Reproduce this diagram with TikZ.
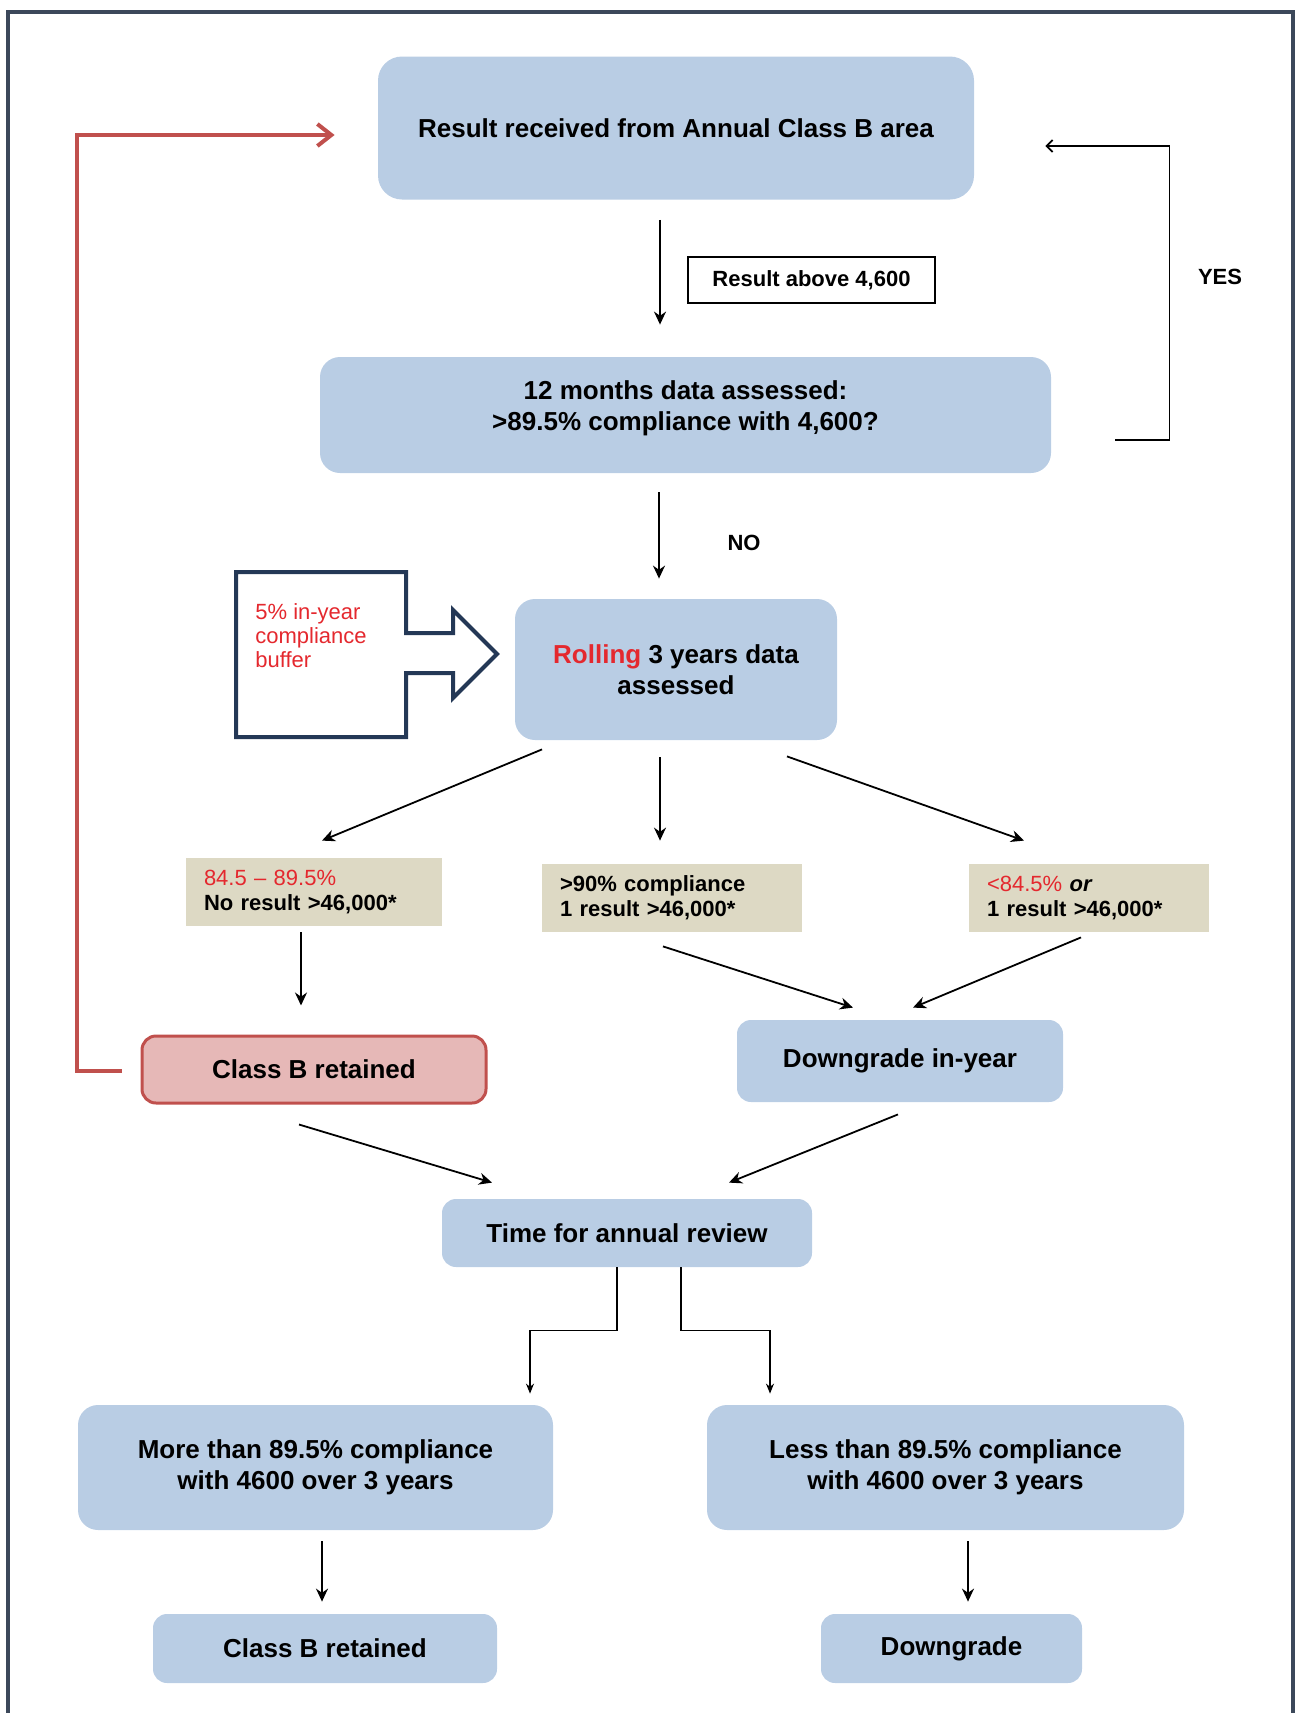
\documentclass[tikz,border=0pt]{standalone}
\usepackage{fontspec}
\setmainfont{Liberation Sans}
\usepackage{tikz}
\usepackage{xcolor}
\usetikzlibrary{arrows.meta}

\definecolor{boxblue}{RGB}{185,205,228}
\definecolor{boxtan}{RGB}{221,217,196}
\definecolor{boxpink}{RGB}{230,184,183}
\definecolor{loopred}{RGB}{192,80,77}
\definecolor{textred}{RGB}{228,40,46}
\definecolor{framegray}{RGB}{60,72,90}
\definecolor{buffernavy}{RGB}{36,56,86}

\begin{document}
\begin{tikzpicture}[x=0.5pt, y=-0.5pt]
\tikzstyle{block} = [rectangle, fill=boxblue, align=center, rounded corners=10pt, inner sep=0pt, font=\fontsize{13}{15.5}\selectfont\bfseries]
\tikzstyle{cond} = [rectangle, fill=boxtan, align=left, inner xsep=9pt, inner ysep=0pt, minimum height=34pt, font=\fontsize{11}{12.5}\selectfont\bfseries]
\tikzstyle{keepbox} = [block, fill=boxpink, draw=loopred, line width=1.5pt, rounded corners=7pt]
\tikzstyle{note} = [rectangle, draw=black, line width=0.9pt, fill=white, minimum width=123.5pt, minimum height=23pt, inner sep=0pt, font=\fontsize{11}{13}\selectfont\bfseries]
\tikzstyle{tag} = [inner sep=0pt, font=\fontsize{11}{13}\selectfont\bfseries]
\tikzstyle{arrow} = [line width=0.9pt, -{Stealth[length=6.5pt,width=6pt]}]
\tikzstyle{elbow} = [line width=0.7pt, -{Stealth[length=5pt,width=4pt]}]
\tikzstyle{yesarrow} = [line width=0.9pt, -{Straight Barb[length=3pt,width=6pt]}]
\tikzstyle{loopback} = [line width=2pt, draw=loopred, -{Straight Barb[length=7pt,width=11pt]}]

\useasboundingbox (0,0) rectangle (1300,1713);
\draw [framegray, line width=1.6pt] (8,1730) |- (1293,12) -- (1293,1730);

% top part
\node [block, minimum width=298pt, minimum height=71.5pt, rounded corners=12pt] (received) at (676,128) {Result received from Annual Class B area};
\node [block, minimum width=365.5pt, minimum height=58pt, text depth=9pt] (twelve) at (685.5,415) {12 months data assessed:\\>89.5\% compliance with 4,600?};
\node [note] (above) at (811.5,280) {Result above 4,600};
\node [tag] (yes) at (1220,277) {YES};
\node [tag] (no) at (744,543) {NO};
\node [block, minimum width=161pt, minimum height=70.5pt] (rolling) at (676,669.5) {{\color{textred}Rolling} 3 years data\\assessed};

% buffer arrow
\draw [buffernavy, line width=2pt, line join=miter] (236,572) -- (406,572) -- (406,633) -- (453,633) -- (453,610) -- (497,654) -- (453,698) -- (453,673) -- (406,673) -- (406,737) -- (236,737) -- cycle;
\node [anchor=west, align=left, inner sep=0pt, text=textred, font=\fontsize{11}{12}\selectfont] (buffer) at (255,636) {5\% in-year\\compliance\\buffer};

% conditions
\node [cond, text width=110pt] (range) at (314,892) {{\color{textred}\mdseries 84.5 – 89.5\%}\\No result >46,000*};
\node [cond, text width=112pt] (pass) at (672,898) {>90\% compliance\\1 result >46,000*};
\node [cond, text width=102pt] (fail) at (1089,898) {{\color{textred}\mdseries <84.5\%} \textit{or}\\1 result >46,000*};

\node [keepbox, minimum width=172pt, minimum height=33.5pt] (retained) at (314,1069.5) {Class B retained};
\node [block, minimum width=163pt, minimum height=41pt, rounded corners=7pt] (inyear) at (900,1061) {Downgrade in-year};
\node [block, minimum width=185pt, minimum height=34pt, rounded corners=7pt] (review) at (627,1233) {Time for annual review};

% annual review outcomes
\node [block, minimum width=237.5pt, minimum height=62.5pt] (more) at (315.5,1467.5) {More than 89.5\% compliance\\with 4600 over 3 years};
\node [block, minimum width=238.5pt, minimum height=62.5pt] (less) at (945.5,1467.5) {Less than 89.5\% compliance\\with 4600 over 3 years};
\node [block, minimum width=172pt, minimum height=34.5pt, rounded corners=7pt] (kept) at (325,1648.5) {Class B retained};
\node [block, minimum width=130.5pt, minimum height=34.5pt, rounded corners=7pt] (down) at (951.5,1648.5) {Downgrade};

\draw [arrow] ([xshift=-8pt,yshift=-10pt]received.south) -- ([xshift=-12.75pt,yshift=16pt]twelve.north);
\draw [yesarrow] ([xshift=32pt,yshift=-12.5pt]twelve.east) -- ++(27pt,0) |- ([xshift=35.5pt,yshift=-9pt]received.east);
\draw [arrow] ([xshift=-13.25pt,yshift=-9.5pt]twelve.south) -- ([xshift=-8.5pt,yshift=10pt]rolling.north);
\draw [arrow] ([xshift=-67pt,yshift=-4.5pt]rolling.south) -- ([xshift=4pt,yshift=8.5pt]range.north);
\draw [arrow] ([xshift=-8pt,yshift=-8.5pt]rolling.south) -- ([xshift=-6pt,yshift=11.5pt]pass.north);
\draw [arrow] ([xshift=55.5pt,yshift=-8pt]rolling.south) -- ([xshift=-32.5pt,yshift=11.5pt]fail.north);
\draw [arrow] ([xshift=-6.5pt,yshift=-3pt]range.south) -- ([xshift=-6.5pt,yshift=14.5pt]retained.north);
\draw [arrow] ([xshift=-4.5pt,yshift=-7pt]pass.south) -- ([xshift=-23.5pt,yshift=6pt]inyear.north);
\draw [arrow] ([xshift=-4pt,yshift=-2.5pt]fail.south) -- ([xshift=6.5pt,yshift=6pt]inyear.north);
\draw [arrow] ([xshift=-7.5pt,yshift=-10pt]retained.south) -- ([xshift=-67.5pt,yshift=8pt]review.north);
\draw [arrow] ([xshift=-1pt,yshift=-6pt]inyear.south) -- ([xshift=51pt,yshift=8pt]review.north);
\draw [elbow] ([xshift=-5pt]review.south) -- ++(0,-31.5pt) -| ([xshift=107.25pt,yshift=5.5pt]more.north);
\draw [elbow] ([xshift=27pt]review.south) -- ++(0,-31.5pt) -| ([xshift=-87.75pt,yshift=5.5pt]less.north);
\draw [arrow] ([xshift=3.25pt,yshift=-5.5pt]more.south) -- ([xshift=-1.5pt,yshift=6pt]kept.north);
\draw [arrow] ([xshift=11.25pt,yshift=-5.5pt]less.south) -- ([xshift=8.25pt,yshift=6pt]down.north);
\draw [loopback] ([xshift=-9.5pt,yshift=-0.75pt]retained.west) -- ++(-22.5pt,0) |- ([xshift=-21.5pt,yshift=-3.5pt]received.west);

\end{tikzpicture}
\end{document}
